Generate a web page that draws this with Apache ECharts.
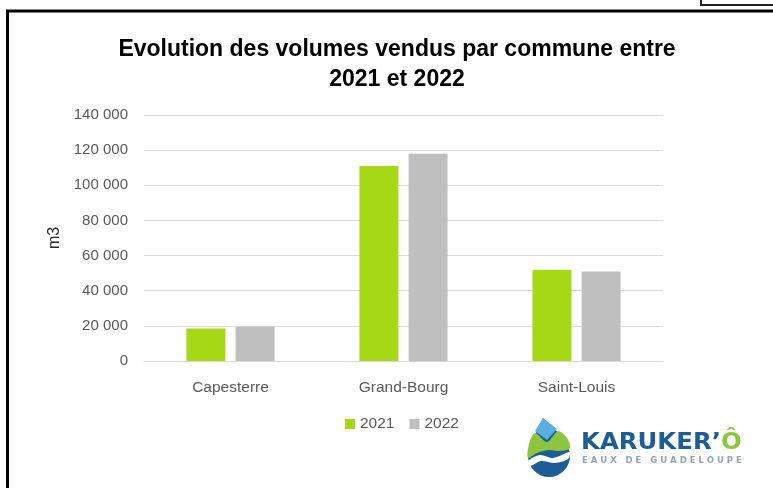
<!DOCTYPE html>
<html>
<head>
<meta charset="utf-8">
<script src="https://cdn.jsdelivr.net/npm/echarts@6/dist/echarts.min.js"></script>
<style>
  html, body { margin: 0; padding: 0; background: #fff; }
  #chart { width: 773px; height: 488px; }
</style>
</head>
<body>
<div id="chart"></div>
<script>
const communes = ["Capesterre", "Grand-Bourg", "Saint-Louis"];
const vol2021 = [18500, 111000, 52000];
const vol2022 = [19500, 118000, 51000];
const yTicks = { min: 0, max: 140000, interval: 20000 };

const green = "#A7D816";
const grey = "#BFBFBF";
const labelColor = "#595959";
const font = "Liberation Sans";

function spaced(v) {
  return String(v).replace(/\B(?=(\d{3})+(?!\d))/g, " ");
}

const chart = echarts.init(document.getElementById("chart"));
chart.setOption({
  backgroundColor: "#fff",
  animation: false,
  title: {
    text: "Evolution des volumes vendus par commune entre\n2021 et 2022",
    left: 392,
    top: 30,
    textAlign: "center",
    textStyle: {
      fontFamily: font,
      fontWeight: "bold",
      fontSize: 23,
      lineHeight: 30,
      color: "#000",
    },
  },
  legend: {
    data: ["2021", "2022"],
    top: 411,
    left: 340,
    icon: "rect",
    itemWidth: 10,
    itemHeight: 10,
    itemGap: 15,
    textStyle: { color: labelColor, fontSize: 15.5, fontFamily: font },
  },
  grid: { left: 144, right: 110, top: 115, bottom: 127 },
  xAxis: {
    type: "category",
    data: communes,
    axisTick: { show: false },
    axisLine: { lineStyle: { color: "#D9D9D9" } },
    axisLabel: { color: labelColor, fontSize: 15.5, fontFamily: font, margin: 19 },
  },
  yAxis: {
    type: "value",
    min: yTicks.min,
    max: yTicks.max,
    interval: yTicks.interval,
    name: "m3",
    nameLocation: "middle",
    nameGap: 70,
    nameTextStyle: { color: "#262626", fontSize: 16, fontFamily: font },
    axisLabel: {
      color: labelColor,
      fontSize: 15,
      fontFamily: font,
      margin: 16,
      formatter: spaced,
    },
    splitLine: { lineStyle: { color: "#D9D9D9" } },
  },
  series: [
    { name: "2021", type: "bar", data: vol2021, barWidth: 39, barGap: "26%", itemStyle: { color: green } },
    { name: "2022", type: "bar", data: vol2022, barWidth: 39, itemStyle: { color: grey } },
  ],
  graphic: [
    {
      type: "rect",
      shape: { x: 701, y: -10, width: 100, height: 15 },
      style: { fill: "none", stroke: "#222", lineWidth: 2 },
    },
    {
      type: "rect",
      shape: { x: 7.5, y: 11, width: 800, height: 500 },
      style: { fill: "none", stroke: "#000", lineWidth: 3 },
    },
    // logo drop
    {
      type: "circle",
      shape: { cx: 549, cy: 456, r: 21 },
      style: { fill: "#1C5C97" },
    },
    {
      type: "polygon",
      shape: { points: [[543, 418], [529, 448], [566, 440]] },
      style: { fill: "#1C5C97" },
    },
    {
      type: "polygon",
      shape: { points: [[543, 418], [535, 431], [547, 440], [557, 429]] },
      style: { fill: "#5AAEE0" },
    },
    {
      type: "polygon",
      shape: {
        points: [[529, 444], [535, 433], [547, 442], [558, 431], [567, 438], [570, 448], [560, 451], [548, 450], [537, 453], [528, 458]],
        smooth: 0.3,
      },
      style: { fill: "#8CC63F" },
    },
    {
      type: "polygon",
      shape: {
        points: [[528, 461], [540, 455], [553, 458], [570, 452], [568, 459], [555, 463], [541, 461], [530, 466]],
        smooth: 0.3,
      },
      style: { fill: "#fff" },
    },
    {
      type: "text",
      x: 581,
      y: 432,
      scaleX: 1.06,
      originX: 0,
      originY: 0,
      style: {
        text: "{a|KARUKER’}{b|Ô}",
        rich: {
          a: { fill: "#1C5C97", font: "bold 23px 'DejaVu Sans'" },
          b: { fill: "#8CC63F", font: "bold 23px 'DejaVu Sans'" },
        },
      },
    },
    {
      type: "text",
      x: 582,
      y: 456,
      style: {
        text: "E A U X   D E   G U A D E L O U P E",
        fill: "#95A3B3",
        font: "bold 8.5px 'DejaVu Sans'",
      },
    },
  ],
});
</script>
</body>
</html>
